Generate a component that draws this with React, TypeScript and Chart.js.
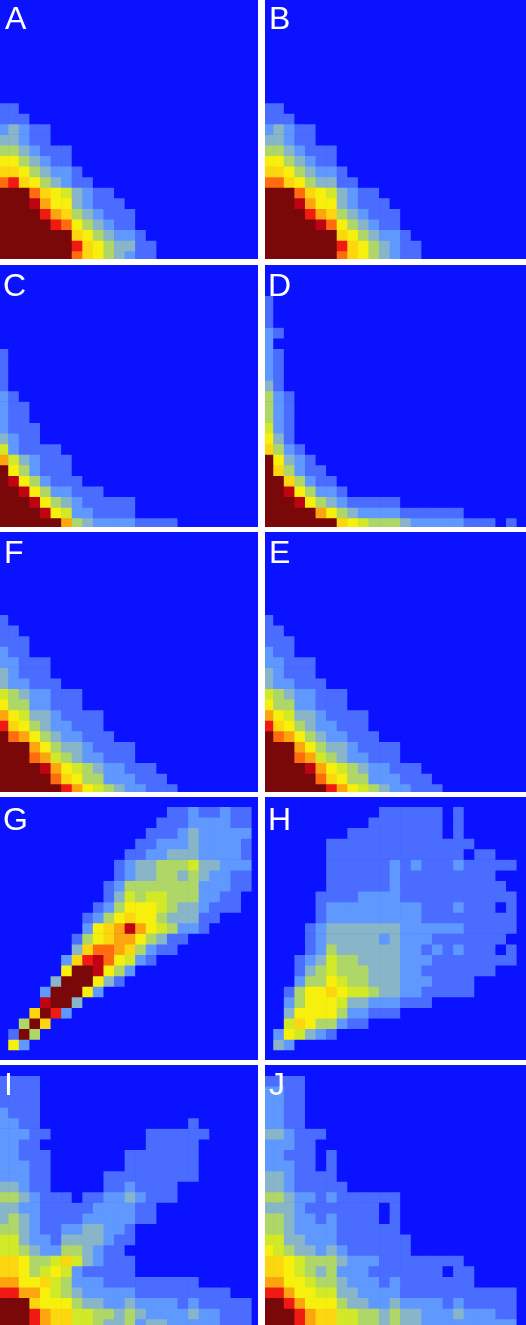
import { useEffect, useRef } from "react";
import { Chart, registerables } from "chart.js";

Chart.register(...registerables);

// Colour-class of each heat-map cell, top row first, left column first.
// Digits are hex classes 0..c; a row stops at its last non-background cell.
const panelA = ["","","","","","","","","","",
  "11","111","23211","33211","4432111","6643211","77643221","9a7643211",
  "ccc97653211","cccb86632111","cccca87432111","ccccca9643211","ccccccc7643221","ccccccca7643311","ccccccc97643211"];
const panelB = ["","","","","","","","","","",
  "11","111","23211","33211","4432111","6643211","77643221","997643311",
  "ccc97653211","cccb86632111","cccca87432111","cccccb9643211","ccccccc7643221","ccccccca7643211","ccccccc97643211"];
const panelC = ["","","","","","","","",
  "1","1","1","1","21","211","211","2111","3211","521111","8532111","c642111","cb642111","ccb6422111",
  "cccb643211111","ccccb65221111","cccccc84322221111"];
const panelD = ["","","",
  "1","1","1","21","2","21","21","21","31","421","421","421","521","631","7421","c6321","c74211","cc74211","ccb64221",
  "cccb643211111","ccccc86432222111111","ccccccc76544432222211101"];
const panelF = ["","","","","","","","",
  "1","11","111","211","22111","32111","322111","54322111","64422111","8653321111","a764322111","c9864322111",
  "ccc8643321111","ccc9854322111","ccccb8654322111","ccccc97644222111","cccccca8654322111"];
const panelE = ["","","","","","","","",
  "1","11","111","211","22111","32111","322111","54322111","64422111","8653321111","a764322111","c9864322111",
  "ccc8643321111","ccc9854322111","ccccb8654322111","ccccc97644222111","cccccca8654322111"];
const panelG = ["",
  "000000000000000011211211",
  "000000000000000111222211",
  "000000000000001112322222",
  "000000000000011222322221",
  "000000000000112233322221",
  "000000000001233444533222",
  "000000000001233443432211",
  "000000000012444444422211",
  "00000000001354554442211",
  "00000000012466654332111",
  "000000001246766433311",
  "000000002678b8654221",
  "000000014678864311",
  "00000003799874211",
  "00000027ab96521",
  "0000006ccb642",
  "000003ccc631",
  "00002ccc62",
  "0000bcc3",
  "0007ca2",
  "004c7",
  "01c4",
  "062",
  ""];
const panelH = ["",
  "0000000000011111101",
  "0000000000111111101",
  "0000000011111111101",
  "00000011111111111111",
  "0000001111111111111011",
  "000000111111212111211111",
  "0000001111112111111111",
  "00000011111121111111111",
  "000001111222211111111111",
  "000001222222222111211101",
  "000001222222222111111111",
  "000012333333322222211111",
  "00001233333232221111111",
  "000012433333322121211101",
  "000123544333322211111111",
  "0001345444333221111111",
  "00024465443332221111",
  "00146676554332211111",
  "0024666533222111",
  "0036666422111",
  "0057644211",
  "0265321",
  "032",
  ""];
const panelI = ["",
  "1111","1111","1111","2111",
  "2211000000000000001",
  "22211000000000111111",
  "2211000000000011111",
  "2211100000001111111",
  "2221100000001111111",
  "2221100000111111111",
  "332110000011" + "21111",
  "44321110112232111",
  "332211111222211",
  "343211112222211",
  "4432112233221",
  "5532213333211",
  "554322443211",
  "7764457532111",
  "7764565211111",
  "8866754222111111111",
  "aa8865432222211111" + "1111",
  "ccc766643322322221211111",
  "ccca87755443432222322111",
  "ccca87755433423322222111"];
const panelJ = ["",
  "1111","2211","2211","2211","2211",
  "332111","22211","2211101","2221101","3321111","33211111",
  "4432212111111","3332111111101","4432212111101","4432222111111",
  "55332221111111",
  "65433232111111",
  "7765444322211111111",
  "7765434222111111" + "1011",
  "88665443222121111111",
  "aa8665533222211111111111",
  "cca866643322322221211111",
  "ccca87755443433222322211",
  "ccca87755443433222222222"];

const palette = ["#0a12ff","#4a6cff","#5f98ff","#88b5c8","#aed768","#d2e928","#f6f00c","#fcd70f","#fda50f","#ff6c10","#f01a12","#c00312","#7a0808"];
const gridSize = 25;
const columnLabels = Array.from({ length: gridSize }, (_, i) => String(i));

type PanelSpec = { letter: string; rows: string[]; x: number; y: number; w: number; h: number; ox: number; oy: number; lx: number; by: number };
const panels: PanelSpec[] = [
  { letter: "A", rows: panelA, x: 0, y: 0, w: 258, h: 259, ox: -1.9, oy: -2.9, lx: 5, by: 29 },
  { letter: "B", rows: panelB, x: 265, y: 0, w: 261, h: 259, ox: -1.6, oy: -2.9, lx: 269, by: 29 },
  { letter: "C", rows: panelC, x: 0, y: 265, w: 258, h: 262, ox: -1.9, oy: -1.2, lx: 3, by: 296 },
  { letter: "D", rows: panelD, x: 265, y: 265, w: 261, h: 262, ox: -1.6, oy: -1.2, lx: 268, by: 296 },
  { letter: "F", rows: panelF, x: 0, y: 532, w: 258, h: 260, ox: -1.9, oy: -2.2, lx: 4, by: 563 },
  { letter: "E", rows: panelE, x: 265, y: 532, w: 261, h: 260, ox: -1.6, oy: -2.2, lx: 269, by: 563 },
  { letter: "G", rows: panelG, x: 0, y: 797, w: 258, h: 263, ox: -1.9, oy: -0.6, lx: 3, by: 830 },
  { letter: "H", rows: panelH, x: 265, y: 797, w: 261, h: 263, ox: -1.6, oy: -0.6, lx: 268, by: 830 },
  { letter: "I", rows: panelI, x: 0, y: 1065, w: 258, h: 260, ox: -1.9, oy: -0.2, lx: 4, by: 1095 },
  { letter: "J", rows: panelJ, x: 265, y: 1065, w: 261, h: 260, ox: -1.6, oy: -0.2, lx: 269, by: 1095 },
];

function HeatPanel({ spec }: { spec: PanelSpec }) {
  const ref = useRef<HTMLCanvasElement | null>(null);
  useEffect(() => {
    if (!ref.current) return;
    const datasets = spec.rows.map((row) => {
      const cells = row.padEnd(gridSize, "0").slice(0, gridSize).split("").map((c) => parseInt(c, 16));
      return {
        data: cells.map(() => 1),
        backgroundColor: cells.map((c) => palette[c]),
        borderWidth: 0,
        barPercentage: 1,
        categoryPercentage: 1,
      };
    });
    const chart = new Chart(ref.current, {
      type: "bar",
      data: { labels: columnLabels, datasets },
      options: {
        responsive: false,
        animation: false,
        events: [],
        layout: { padding: { left: 0, top: 0, right: 0.5, bottom: 0.5 } },
        plugins: { legend: { display: false }, title: { display: false }, tooltip: { enabled: false } },
        scales: {
          x: { stacked: true, display: false, offset: true, grid: { display: false } },
          y: { stacked: true, display: false, reverse: true, min: 0, max: gridSize, grid: { display: false } },
        },
      },
    });
    return () => chart.destroy();
  }, [spec]);
  return (
    <div style={{ position: "absolute", left: spec.x, top: spec.y, width: spec.w, height: spec.h, overflow: "hidden", background: palette[0] }}>
      <canvas ref={ref} width={265} height={265} style={{ position: "absolute", left: spec.ox, top: spec.oy, width: 265, height: 265 }} />
    </div>
  );
}

export default function App() {
  return (
    <div style={{ position: "absolute", left: 0, top: 0, width: 526, height: 1325, background: "#fff", overflow: "hidden" }}>
      {panels.map((p) => (
        <HeatPanel key={p.letter} spec={p} />
      ))}
      {panels.map((p) => (
        <div
          key={"t" + p.letter}
          style={{ position: "absolute", left: p.lx, top: p.by - 27, fontFamily: "'Liberation Sans', Arial, sans-serif", fontSize: 32, lineHeight: "32px", color: "#fff" }}
        >
          {p.letter}
        </div>
      ))}
    </div>
  );
}
